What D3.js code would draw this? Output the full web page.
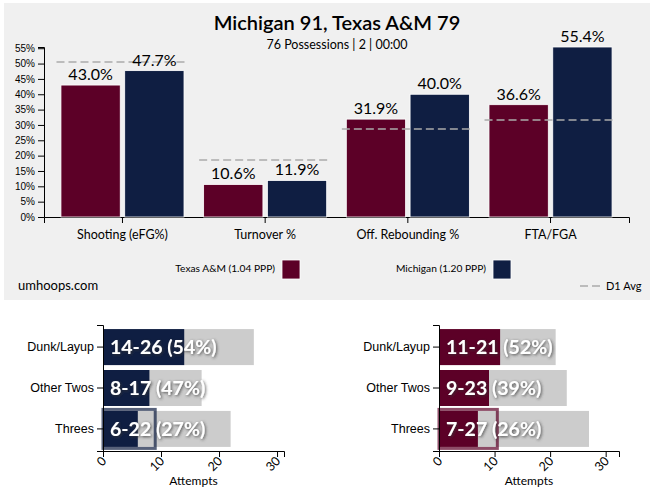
<!DOCTYPE html>
<html>
<head>
<meta charset="utf-8">
<script src="https://cdn.jsdelivr.net/npm/d3@7"></script>
<style>
	body { margin: 0; background: #fff; }
	text { font-family: Lato, sans-serif; }
	.tick text { font-family: Arial, "Liberation Sans", sans-serif; }
</style>
</head>
<body>
<svg id="chart" width="654" height="500"></svg>
<script>
var aCategories = ["Shooting (eFG%)", "Turnover %", "Off. Rebounding %", "FTA/FGA"];
var aTeams = ["Texas A&M", "Michigan"];
var aTeamLabels = ["Texas A&M (1.04 PPP)", "Michigan (1.20 PPP)"];
var aTexasValues = [43.0, 10.6, 31.9, 36.6];
var aMichiganValues = [47.7, 11.9, 40.0, 55.4];
var aD1Avg = [50.5, 18.6, 28.7, 31.6];
var aYTicks = [0, 5, 10, 15, 20, 25, 30, 35, 40, 45, 50, 55];

var aShotTypes = ["Dunk/Layup", "Other Twos", "Threes"];
var aMichiganMade = [14, 8, 6];
var aMichiganAtt = [26, 17, 22];
var aTexasMade = [11, 9, 7];
var aTexasAtt = [21, 23, 27];
var aAttTicks = [0, 10, 20, 30];

var oColors = {"Texas A&M": "#5c0027", "Michigan": "#0f1e42"};

var $svg = d3.select("#chart");

// drop shadow for the white shot labels
$svg.append("defs").append("filter")
	.attr("id", "shadow").attr("x", "-20%").attr("y", "-50%")
	.attr("width", "140%").attr("height", "200%")
	.append("feDropShadow")
	.attr("dx", 1).attr("dy", 1).attr("stdDeviation", 1.5)
	.attr("flood-color", "#333").attr("flood-opacity", 0.85);

function drawFactors($svg) {
	var aData = aCategories.map(function (c, i) {
			return {cat: c, avg: aD1Avg[i], vals: [aTexasValues[i], aMichiganValues[i]]};
		}),
		x0 = d3.scaleBand().domain(aCategories).range([44, 629]).paddingInner(0.075).paddingOuter(0.0875),
		x1 = d3.scaleBand().domain(aTeams).range([0, x0.bandwidth()]).padding(0.07),
		y = d3.scaleLinear().domain([0, d3.max(aMichiganValues.concat(aTexasValues))]).range([217, 47]);

	$svg.append("rect")
		.attr("x", 4).attr("y", 3).attr("width", 646).attr("height", 297)
		.attr("fill", "#f0f0f0");

	$svg.append("text").attr("x", 337).attr("y", 30).attr("text-anchor", "middle")
		.style("font-size", "20px").style("font-weight", "600").text("Michigan 91, Texas A&M 79");
	$svg.append("text").attr("x", 337).attr("y", 49).attr("text-anchor", "middle")
		.style("font-size", "12.5px").text("76 Possessions | 2 | 00:00");

	$svg.append("g").attr("transform", "translate(44,0)")
		.call(d3.axisLeft(y).tickValues(aYTicks).tickFormat(function (d) { return d + "%"; }));

	var $xAxis = $svg.append("g").attr("transform", "translate(0,217)")
		.call(d3.axisBottom(x0));
	$xAxis.selectAll(".tick text")
		.style("font-family", "Lato, sans-serif").style("font-size", "12.5px").attr("dy", "1.05em");

	var $groups = $svg.selectAll(".factor").data(aData).enter().append("g")
		.attr("class", "factor")
		.attr("transform", function (d) { return "translate(" + x0(d.cat) + ",0)"; });

	$groups.selectAll("rect").data(function (d) {
			return d.vals.map(function (v, i) { return {team: aTeams[i], value: v}; });
		}).enter().append("rect")
		.attr("x", function (d) { return x1(d.team); })
		.attr("y", function (d) { return y(d.value); })
		.attr("width", x1.bandwidth())
		.attr("height", function (d) { return y(0) - y(d.value); })
		.attr("fill", function (d) { return oColors[d.team]; })
		.attr("stroke", "#fff").attr("stroke-width", 0.8);

	$groups.append("line")
		.attr("x1", 0).attr("x2", x0.bandwidth())
		.attr("y1", function (d) { return y(d.avg); })
		.attr("y2", function (d) { return y(d.avg); })
		.attr("stroke", "#aaa").attr("stroke-width", 1.5).attr("stroke-dasharray", "8,4");

	$groups.selectAll(".val").data(function (d) {
			return d.vals.map(function (v, i) { return {team: aTeams[i], value: v}; });
		}).enter().append("text")
		.attr("class", "val")
		.attr("x", function (d) { return x1(d.team) + x1.bandwidth() / 2; })
		.attr("y", function (d) { return y(d.value) - 5; })
		.attr("text-anchor", "middle").style("font-size", "16px")
		.text(function (d) { return d.value.toFixed(1) + "%"; });

	// legend
	var aLegendX = [275, 486];
	aTeams.forEach(function (t, i) {
		$svg.append("text").attr("x", aLegendX[i]).attr("y", 272).attr("text-anchor", "end")
			.style("font-size", "10.2px").text(aTeamLabels[i]);
		$svg.append("rect").attr("x", aLegendX[i] + 7).attr("y", 260).attr("width", 18).attr("height", 19)
			.attr("fill", oColors[t]).attr("stroke", "#fff").attr("stroke-width", 0.8);
	});
	$svg.append("text").attr("x", 18).attr("y", 290).style("font-size", "13px").text("umhoops.com");
	$svg.append("line").attr("x1", 580).attr("x2", 600).attr("y1", 286).attr("y2", 286)
		.attr("stroke", "#aaa").attr("stroke-width", 1.5).attr("stroke-dasharray", "8,4");
	$svg.append("text").attr("x", 606).attr("y", 290).style("font-size", "11px").text("D1 Avg");
}

function drawShots($svg, sTeam, aMade, aAtt, iLeft, iRight) {
	var aData = aShotTypes.map(function (s, i) {
			return {type: s, made: aMade[i], att: aAtt[i]};
		}),
		x = d3.scaleLinear().domain([0, d3.max(aAtt) * 1.2]).range([iLeft, iRight]),
		y = d3.scaleBand().domain(aShotTypes).range([325, 451]).paddingInner(0.12).paddingOuter(0.1),
		$g = $svg.append("g");

	$g.selectAll(".att").data(aData).enter().append("rect")
		.attr("x", x(0)).attr("y", function (d) { return y(d.type); })
		.attr("width", function (d) { return x(d.att) - x(0); })
		.attr("height", y.bandwidth())
		.attr("fill", "#cccccc");

	$g.selectAll(".made").data(aData).enter().append("rect")
		.attr("x", x(0)).attr("y", function (d) { return y(d.type); })
		.attr("width", function (d) { return x(d.made) - x(0); })
		.attr("height", y.bandwidth())
		.attr("fill", oColors[sTeam]);

	// threes count 1.5x
	var oThree = aData[2];
	$g.append("rect")
		.attr("x", x(0)).attr("y", y(oThree.type) - 1.5)
		.attr("width", x(oThree.made * 1.5) - x(0))
		.attr("height", y.bandwidth() + 3)
		.attr("fill", "none").attr("stroke", oColors[sTeam])
		.attr("stroke-opacity", 0.7).attr("stroke-width", 3);

	$g.selectAll(".lbl").data(aData).enter().append("text")
		.attr("x", x(0) + 7)
		.attr("y", function (d) { return y(d.type) + y.bandwidth() / 2; })
		.attr("dy", "0.35em")
		.attr("fill", "#fff").attr("filter", "url(#shadow)")
		.style("font-size", "19.5px").style("font-weight", "bold")
		.text(function (d) {
			return d.made + "-" + d.att + " (" + Math.round(d.made / d.att * 100) + "%)";
		});

	var $yAxis = $g.append("g").attr("transform", "translate(" + iLeft + ",0)")
		.call(d3.axisLeft(y));
	$yAxis.selectAll(".tick text").style("font-size", "12.5px");

	var $xAxis = $g.append("g").attr("transform", "translate(0,451)")
		.call(d3.axisBottom(x).tickValues(aAttTicks));
	$xAxis.selectAll(".tick text")
		.style("font-family", "Lato, sans-serif").style("font-size", "12.5px")
		.attr("text-anchor", "end").attr("dx", "-0.4em").attr("dy", "0.1em")
		.attr("transform", "rotate(-45)");

	$g.append("text").attr("x", (iLeft + iRight) / 2).attr("y", 485)
		.attr("text-anchor", "middle").style("font-size", "12px").text("Attempts");
}

drawFactors($svg);
drawShots($svg, "Michigan", aMichiganMade, aMichiganAtt, 103, 284);
drawShots($svg, "Texas A&M", aTexasMade, aTexasAtt, 439, 619);
</script>
</body>
</html>
